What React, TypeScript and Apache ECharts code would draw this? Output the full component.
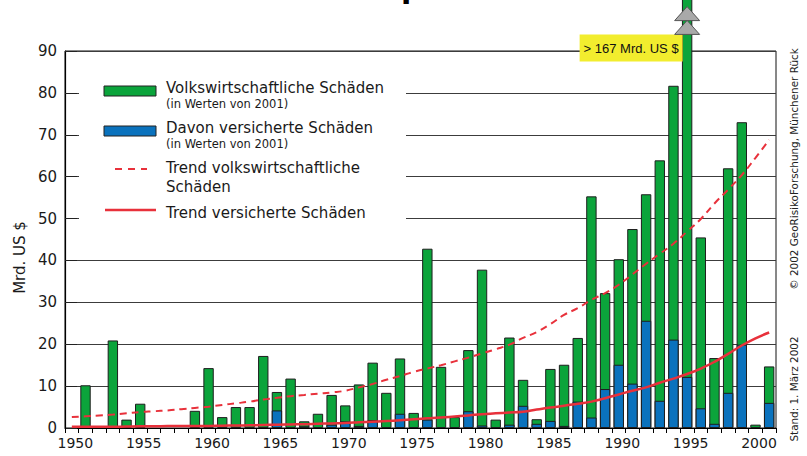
import React, { useEffect, useRef } from 'react';
import * as echarts from 'echarts';

const years = [
  '1950', '1951', '1952', '1953', '1954', '1955', '1956', '1957', '1958', '1959',
  '1960', '1961', '1962', '1963', '1964', '1965', '1966', '1967', '1968', '1969',
  '1970', '1971', '1972', '1973', '1974', '1975', '1976', '1977', '1978', '1979',
  '1980', '1981', '1982', '1983', '1984', '1985', '1986', '1987', '1988', '1989',
  '1990', '1991', '1992', '1993', '1994', '1995', '1996', '1997', '1998', '1999',
  '2000', '2001',
];

// Volkswirtschaftliche Schäden (Mrd. US $, in Werten von 2001)
const economicLosses = [
  null, 10.2, null, 20.9, 2.0, 5.8, null, null, null, 4.1,
  14.3, 2.6, 5.0, 5.0, 17.2, 8.6, 11.8, 1.6, 3.4, 7.9,
  5.4, 10.4, 15.6, 8.4, 16.6, 3.6, 42.8, 14.6, 2.6, 18.6,
  37.8, 2.0, 21.6, 11.5, 2.1, 14.1, 15.1, 21.5, 55.3, 32.2,
  40.3, 47.5, 55.8, 63.9, 81.7, 167, 45.5, 16.7, 62.0, 73.0,
  0.8, 14.7,
];

// Davon versicherte Schäden
const insuredLosses = [
  null, null, null, null, null, null, null, null, null, null,
  null, null, null, null, null, 4.2, null, 0.4, null, 0.8,
  1.6, 0.5, 1.9, null, 3.4, null, 2.0, null, null, 4.0,
  0.6, null, 0.8, 5.3, 1.0, 1.7, 0.5, 6.3, 2.5, 9.3,
  15.1, 10.6, 25.6, 6.5, 21.1, 12.2, 4.7, 1.0, 8.4, 19.9,
  null, 6.0,
];

const trendEconomic = [
  2.6, 2.8, 3.0, 3.2, 3.5, 3.8, 4.0, 4.2, 4.5, 4.8,
  5.1, 5.5, 5.9, 6.3, 6.8, 7.2, 7.6, 7.9, 8.2, 8.5,
  8.9, 9.7, 10.5, 11.5, 12.4, 13.4, 14.2, 15.0, 15.9, 16.8,
  17.8, 18.8, 19.9, 21.5, 22.9, 24.8, 27.0, 28.6, 30.6, 32.2,
  34.2, 36.7, 39.2, 41.6, 44.0, 46.9, 49.9, 53.6, 56.9, 60.4,
  64.5, 68.8,
];

const trendInsured = [
  0.3, 0.3, 0.3, 0.3, 0.35, 0.4, 0.4, 0.45, 0.45, 0.5,
  0.5, 0.55, 0.6, 0.65, 0.7, 0.8, 0.85, 0.9, 1.0, 1.1,
  1.2, 1.35, 1.5, 1.65, 1.85, 2.1, 2.3, 2.5, 2.75, 3.0,
  3.3, 3.5, 3.7, 3.9, 4.4, 4.9, 5.3, 5.8, 6.3, 7.1,
  8.0, 8.9, 9.7, 10.8, 11.8, 12.9, 14.2, 15.8, 17.7, 19.7,
  21.4, 22.8,
];

const extremeYear = '1995';
const extremeLabel = '> 167 Mrd. US $';
const titleText = 'Große Naturkatastrophen 1950 – 2001';
const yAxisName = 'Mrd. US $';
const legendTexts = {
  economic: 'Volkswirtschaftliche Schäden',
  insured: 'Davon versicherte Schäden',
  sub: '(in Werten von 2001)',
  trendEconomic: 'Trend volkswirtschaftliche\nSchäden',
  trendInsured: 'Trend versicherte Schäden',
};
const copyrightText = '© 2002 GeoRisikoForschung, Münchener Rück';
const standText = 'Stand: 1. März 2002';

const FONT = '"DejaVu Sans", Verdana, sans-serif';
const GREEN = '#0ba43b';
const BLUE = '#0a72bd';
const RED = '#e8313b';
const TEXT = '#1a1a1a';

export default function App() {
  const ref = useRef<HTMLDivElement>(null);

  useEffect(() => {
    if (!ref.current) return;
    const chart = echarts.init(ref.current, null, { renderer: 'svg' });

    // place the (cut-off) title so that the stem of its "p" lands where the reference shows it
    let titleX = 220;
    try {
      const ctx = document.createElement('canvas').getContext('2d');
      if (ctx) {
        ctx.font = 'bold 30px "DejaVu Sans"';
        const idx = titleText.indexOf('p');
        const pre = ctx.measureText(titleText.slice(0, idx)).width;
        titleX = 406 - pre - 5;
      }
    } catch (e) {}

    const baseGraphic: any[] = [
      {
        type: 'text',
        id: 'title',
        x: titleX,
        y: -13,
        z: 5,
        style: {
          text: titleText,
          font: 'bold 30px "DejaVu Sans"',
          fill: '#000',
          align: 'left',
          verticalAlign: 'middle',
        },
      },
      {
        type: 'rect',
        id: 'legendBg',
        z: 1,
        shape: { x: 79, y: 58, width: 327, height: 178 },
        style: { fill: '#fff' },
      },
      {
        type: 'rect', id: 'lgGreen', z: 10,
        shape: { x: 104, y: 86, width: 52, height: 10 },
        style: { fill: GREEN, stroke: '#222', lineWidth: 1 },
      },
      {
        type: 'text', id: 'lgT1', z: 10, x: 166, y: 88,
        style: { text: legendTexts.economic, font: '15px "DejaVu Sans"', fill: TEXT, verticalAlign: 'middle' },
      },
      {
        type: 'text', id: 'lgS1', z: 10, x: 166, y: 104,
        style: { text: legendTexts.sub, font: '11.5px "DejaVu Sans"', fill: TEXT, verticalAlign: 'middle' },
      },
      {
        type: 'rect', id: 'lgBlue', z: 10,
        shape: { x: 104, y: 126, width: 52, height: 10 },
        style: { fill: BLUE, stroke: '#222', lineWidth: 1 },
      },
      {
        type: 'text', id: 'lgT2', z: 10, x: 166, y: 128,
        style: { text: legendTexts.insured, font: '15px "DejaVu Sans"', fill: TEXT, verticalAlign: 'middle' },
      },
      {
        type: 'text', id: 'lgS2', z: 10, x: 166, y: 144,
        style: { text: legendTexts.sub, font: '11.5px "DejaVu Sans"', fill: TEXT, verticalAlign: 'middle' },
      },
      {
        type: 'line', id: 'lgDash', z: 10,
        shape: { x1: 115, y1: 169, x2: 147, y2: 169 },
        style: { stroke: RED, lineWidth: 2, lineDash: [7, 6] },
      },
      {
        type: 'text', id: 'lgT3', z: 10, x: 166, y: 177,
        style: { text: legendTexts.trendEconomic, font: '15px "DejaVu Sans"', fill: TEXT, verticalAlign: 'middle', lineHeight: 19 },
      },
      {
        type: 'line', id: 'lgSolid', z: 10,
        shape: { x1: 105, y1: 210, x2: 156, y2: 210 },
        style: { stroke: RED, lineWidth: 2.5 },
      },
      {
        type: 'text', id: 'lgT4', z: 10, x: 166, y: 213,
        style: { text: legendTexts.trendInsured, font: '15px "DejaVu Sans"', fill: TEXT, verticalAlign: 'middle' },
      },
      {
        type: 'text', id: 'copy', z: 10, x: 794, y: 169, rotation: Math.PI / 2,
        style: { text: copyrightText, font: '10.4px "DejaVu Sans"', fill: '#222', align: 'center', verticalAlign: 'middle' },
      },
      {
        type: 'text', id: 'stand', z: 10, x: 794, y: 389, rotation: Math.PI / 2,
        style: { text: standText, font: '10.4px "DejaVu Sans"', fill: '#222', align: 'center', verticalAlign: 'middle' },
      },
    ];

    const option: any = {
      animation: false,
      textStyle: { fontFamily: FONT, color: TEXT },
      grid: {
        left: 65,
        right: 31,
        top: 51,
        bottom: 28,
        show: true,
        borderColor: '#111',
        borderWidth: 1,
        backgroundColor: 'transparent',
      },
      xAxis: {
        type: 'category',
        data: years,
        boundaryGap: true,
        axisLine: { lineStyle: { color: '#000', width: 1.2 } },
        axisTick: { show: true, interval: 0, length: 5, lineStyle: { color: '#000' } },
        axisLabel: {
          interval: (idx: number, val: string) => Number(val) % 5 === 0,
          fontSize: 14,
          color: TEXT,
          margin: 8,
          padding: [0, 0, 0, 7],
          fontFamily: FONT,
        },
        splitLine: { show: false },
      },
      yAxis: {
        type: 'value',
        min: 0,
        max: 90,
        interval: 10,
        name: yAxisName,
        nameLocation: 'middle',
        nameGap: 38,
        nameTextStyle: { fontSize: 15, color: TEXT, fontFamily: FONT, padding: [0, 36, 0, 0] },
        axisLine: { show: true, lineStyle: { color: '#000', width: 1.2 } },
        axisTick: { show: true, inside: true, length: 12, lineStyle: { color: '#222' } },
        axisLabel: { fontSize: 15, color: TEXT, margin: 8, fontFamily: FONT },
        splitLine: { show: true, lineStyle: { color: '#3c3c3c', width: 1 } },
      },
      graphic: baseGraphic,
      series: [
        {
          name: legendTexts.economic,
          type: 'bar',
          data: economicLosses,
          barWidth: '76%',
          barGap: '-100%',
          clip: false,
          itemStyle: { color: GREEN, borderColor: '#1e1e1e', borderWidth: 1 },
          markPoint: {
            silent: true,
            data: [
              {
                coord: [extremeYear, 90],
                symbol: 'rect',
                symbolSize: [103, 27],
                symbolOffset: [-56, -3],
                itemStyle: { color: '#f2ed2e', borderWidth: 0 },
                label: {
                  show: true,
                  position: 'inside',
                  formatter: extremeLabel,
                  color: '#111',
                  fontSize: 13,
                  fontFamily: '"Liberation Sans", Arial, sans-serif',
                },
              },
            ],
          },
        },
        {
          name: legendTexts.insured,
          type: 'bar',
          data: insuredLosses,
          barWidth: '76%',
          barGap: '-100%',
          itemStyle: { color: BLUE, borderColor: '#1e1e1e', borderWidth: 1 },
        },
        {
          name: 'Trend volkswirtschaftliche Schäden',
          type: 'line',
          data: trendEconomic,
          smooth: true,
          symbol: 'none',
          z: 4,
          lineStyle: { color: RED, width: 2, type: [7, 5] },
        },
        {
          name: legendTexts.trendInsured,
          type: 'line',
          data: trendInsured,
          smooth: true,
          symbol: 'none',
          z: 4,
          lineStyle: { color: RED, width: 2.5 },
        },
      ],
    };

    chart.setOption(option);

    // "off the scale" arrows on top of the extreme bar, positioned through the axes
    const px = chart.convertToPixel({ xAxisIndex: 0 }, extremeYear) as number;
    const yA = chart.convertToPixel({ yAxisIndex: 0 }, 100.6) as number;
    const yB = chart.convertToPixel({ yAxisIndex: 0 }, 97.3) as number;
    const tri = (id: string, yTop: number) => ({
      type: 'polygon',
      id,
      z: 20,
      shape: {
        points: [
          [px, yTop],
          [px + 12.5, yTop + 14],
          [px - 12.5, yTop + 14],
        ],
      },
      style: { fill: '#a9a9a9', stroke: '#555', lineWidth: 1 },
    });
    chart.setOption({ graphic: [...baseGraphic, tri('triA', yA), tri('triB', yB)] });

    return () => chart.dispose();
  }, []);

  return (
    <div
      ref={ref}
      style={{ position: 'fixed', left: 0, top: 0, width: 807, height: 456, background: '#fff' }}
    />
  );
}
